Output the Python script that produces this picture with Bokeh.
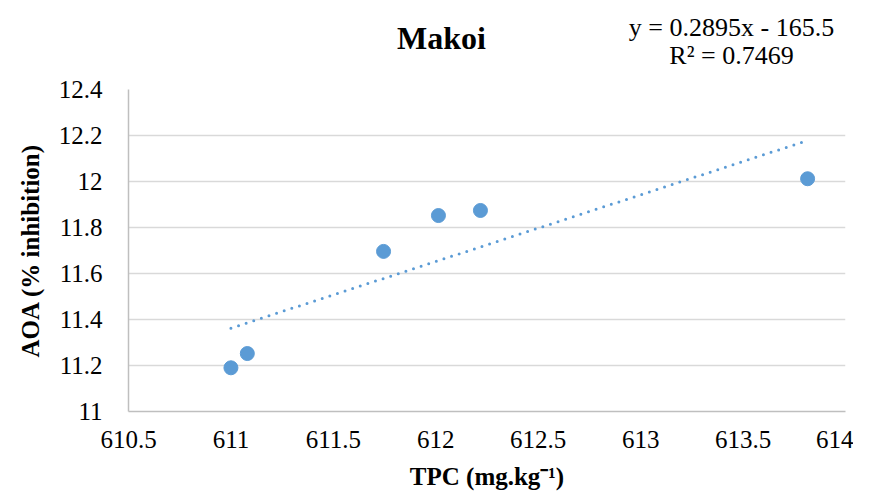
from bokeh.plotting import figure
from bokeh.models import FixedTicker, Range1d
from bokeh.layouts import column
from bokeh.core.properties import value
from bokeh.embed import file_html
from bokeh.resources import INLINE
import numpy as np

# data
tpc = [611.00, 611.08, 611.745, 612.013, 612.218, 613.815]
aoa = [11.19, 11.252, 11.696, 11.852, 11.874, 12.012]
x_ticks = [610.5, 611, 611.5, 612, 612.5, 613, 613.5, 614]
x_tick_labels = ["610.5", "611", "611.5", "612", "612.5", "613", "613.5", "614"]
y_ticks = [11, 11.2, 11.4, 11.6, 11.8, 12, 12.2, 12.4]
y_tick_labels = ["11", "11.2", "11.4", "11.6", "11.8", "12", "12.2", "12.4"]
title_text = "Makoi"
eq_text = "y = 0.2895x - 165.5"
r2_text = "R² = 0.7469"
x_title = "TPC (mg.kg⁻¹)"
y_title = "AOA (% inhibition)"

FONT = "Liberation Serif"
BLUE = "#5B9BD5"

W = 853
LEFT, RIGHT = 128, 8
HEAD_H = 75
MAIN_TOP = 14
MAIN_H = 493 - HEAD_H
BOTTOM = 82

# ---- header strip (title and trendline equation); x in canvas pixels ----
head = figure(width=W, height=HEAD_H, output_backend="svg", toolbar_location=None,
              x_range=Range1d(LEFT, W - RIGHT), y_range=Range1d(HEAD_H, 0))
head.min_border_left = LEFT
head.min_border_right = RIGHT
head.min_border_top = 0
head.min_border_bottom = 0
head.axis.visible = False
head.grid.grid_line_color = None
head.outline_line_color = None
head.text(x=[441], y=[37], text=[title_text], text_font=value(FONT),
          text_font_size="32px", text_font_style="bold", text_color="#000000",
          text_align="center", text_baseline="middle")
head.text(x=[731, 731], y=[27, 55], text=[eq_text, r2_text], text_font=value(FONT),
          text_font_size="26px", text_color="#000000",
          text_align="center", text_baseline="middle")

# ---- main chart ----
p = figure(width=W, height=MAIN_H, output_backend="svg", toolbar_location=None,
           x_range=Range1d(610.5, 614), y_range=Range1d(11, 12.4))
p.min_border_left = LEFT
p.min_border_right = RIGHT
p.min_border_top = MAIN_TOP
p.min_border_bottom = BOTTOM
p.outline_line_color = None
p.background_fill_color = "white"
p.border_fill_color = "white"

p.xaxis.ticker = FixedTicker(ticks=x_ticks)
p.yaxis.ticker = FixedTicker(ticks=y_ticks)
p.xaxis.major_label_overrides = {t: l for t, l in zip(x_ticks, x_tick_labels)}
p.yaxis.major_label_overrides = {t: l for t, l in zip(y_ticks, y_tick_labels)}
for ax in (p.xaxis, p.yaxis):
    ax.major_tick_line_color = None
    ax.minor_tick_line_color = None
    ax.axis_line_color = "#BFBFBF"
    ax.axis_line_width = 1.5
    ax.major_label_text_font = FONT
    ax.major_label_text_font_size = "25px"
    ax.major_label_text_color = "#000000"
    ax.axis_label_text_font = FONT
    ax.axis_label_text_font_style = "bold"
    ax.axis_label_text_font_size = "25px"
    ax.axis_label_text_color = "#000000"
p.xaxis.axis_label = x_title
p.yaxis.axis_label = y_title
p.xaxis.major_label_standoff = 13
p.yaxis.major_label_standoff = 20
p.xaxis.axis_label_standoff = 12
p.yaxis.axis_label_standoff = 12

p.xgrid.grid_line_color = None
p.ygrid.grid_line_color = "#D9D9D9"
p.ygrid.grid_line_width = 1.5

# trendline from least squares fit
slope, intercept = np.polyfit(tpc, aoa, 1)
xs = [min(tpc), max(tpc)]
ys = [slope * v + intercept for v in xs]
p.line(xs, ys, line_color=BLUE, line_width=3, line_dash="0 8", line_cap="round")

p.scatter(tpc, aoa, size=14, fill_color=BLUE, line_color=BLUE)

layout = column(head, p, spacing=0)
open("out.html", "w").write(file_html(layout, INLINE))
